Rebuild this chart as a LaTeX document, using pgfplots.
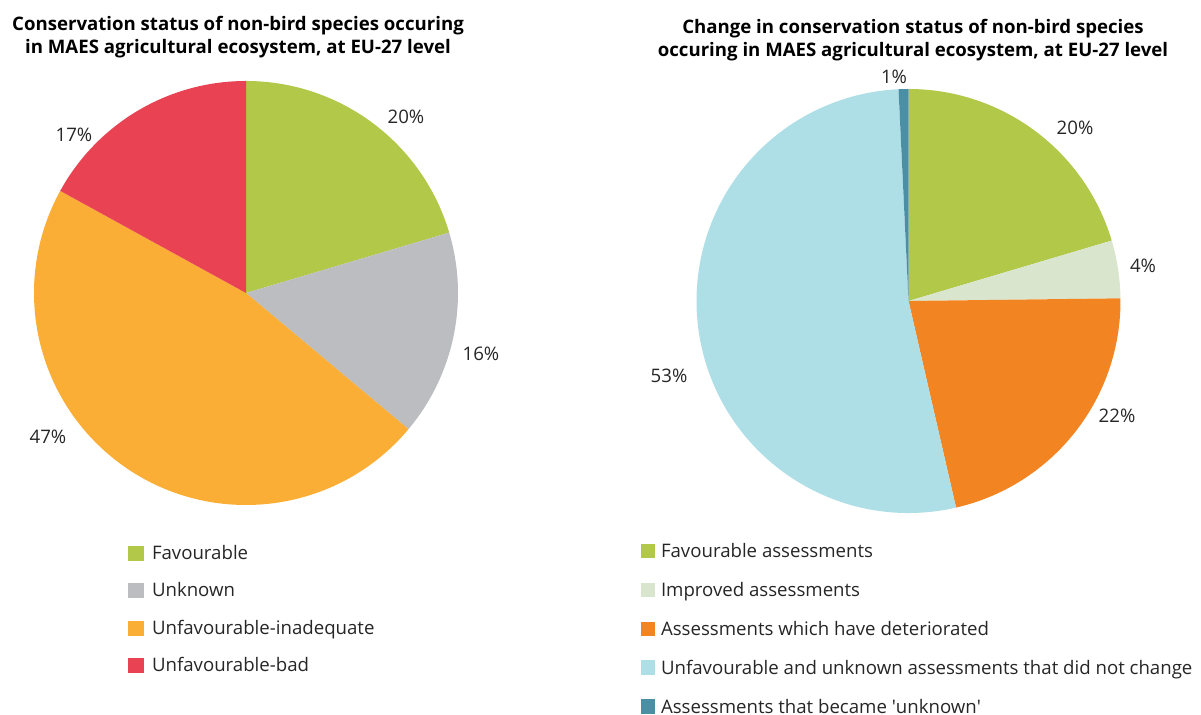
\documentclass[border=0pt]{standalone}
\usepackage{pgfplots}
\usepackage{pgfplotstable}
\pgfplotsset{compat=1.18}
\usepackage{fontspec}
\setmainfont{Open Sans}

\definecolor{cFav}{HTML}{B2C848}
\definecolor{cUnk}{HTML}{BCBDC0}
\definecolor{cInad}{HTML}{FBAE35}
\definecolor{cBad}{HTML}{E84253}
\definecolor{cImp}{HTML}{D9E5CC}
\definecolor{cDet}{HTML}{F28522}
\definecolor{cStay}{HTML}{AEDFE6}
\definecolor{cUnkn}{HTML}{4A8FA3}

% value (percent), label, label position (x, y in canvas px, y up), colour
\pgfplotstableread{
value lab lx ly color
20.4 20 406 598 cFav
15.7 16 481 361 cUnk
46.9 47 48 278 cInad
17.0 17 74 580 cBad
}\leftpie

\pgfplotstableread{
value lab lx ly color
20.4 20 1075 587 cFav
4.4 4 1143 449 cImp
21.6 22 1117 299 cDet
52.85 53 669 339 cStay
0.75 1 894 638 cUnkn
}\rightpie

\newcommand\fs{\fontsize{18.7}{22}\selectfont}
\tikzset{pctlabel/.style={font=\fs, text=black!85}}

\newcommand\drawpie[4]{%
  \pgfplotstablegetrowsof{#1}%
  \pgfmathtruncatemacro\nrows{\pgfplotsretval-1}%
  \def\cum{90}%
  \pgfplotsforeachungrouped \i in {0,...,\nrows}{%
    \pgfplotstablegetelem{\i}{value}\of{#1}\let\val\pgfplotsretval
    \pgfplotstablegetelem{\i}{color}\of{#1}\let\col\pgfplotsretval
    \pgfplotstablegetelem{\i}{lab}\of{#1}\let\lab\pgfplotsretval
    \pgfplotstablegetelem{\i}{lx}\of{#1}\let\lx\pgfplotsretval
    \pgfplotstablegetelem{\i}{ly}\of{#1}\let\ly\pgfplotsretval
    \pgfmathsetmacro\endang{\cum-3.6*\val}%
    \edef\tmp{\noexpand\fill[\col] (axis cs:#2,#3) -- ++(\cum:#4bp)
      arc[start angle=\cum, end angle=\endang, radius=#4bp] -- cycle;
      \noexpand\node[pctlabel] at (axis cs:\lx,\ly) {\lab\noexpand\%};}%
    \tmp
    \let\cum\endang
  }%
}

\pgfplotsset{
  canvas/.style={
    at={(0,0)}, anchor=south west,
    scale only axis, width=1201bp, height=715bp,
    xmin=0, xmax=1201, ymin=0, ymax=715,
    hide axis, clip=false,
  },
}

\begin{document}
\begin{tikzpicture}
\useasboundingbox (0,0) rectangle (1201bp,715bp);
% ---------- left pie ----------
\begin{axis}[canvas,
  legend cell align=left,
  legend image code/.code={\fill (0bp,-1.5bp) rectangle (16bp,13.5bp);},
  legend style={at={(axis cs:128,169.5)}, anchor=north west,
    draw=none, fill=none, inner sep=0pt, outer sep=0pt,
    row sep=19.5bp, column sep=8bp,
    font=\fs,
    cells={anchor=base west},
    nodes={inner sep=0pt, outer sep=0pt, text height=14bp, text depth=4bp, text=black!85}},
]
\drawpie{\leftpie}{246}{422}{212}
\node[anchor=base, font=\fs\bfseries] at (axis cs:238,684) {Conservation status of non-bird species occuring};
\node[anchor=base, font=\fs\bfseries] at (axis cs:238,661) {in MAES agricultural ecosystem, at EU-27 level};
\addlegendimage{fill=cFav, draw=none}
\addlegendimage{fill=cUnk, draw=none}
\addlegendimage{fill=cInad, draw=none}
\addlegendimage{fill=cBad, draw=none}
\legend{Favourable, Unknown, Unfavourable-inadequate, Unfavourable-bad}
\end{axis}
% ---------- right pie ----------
\begin{axis}[canvas,
  legend cell align=left,
  legend image code/.code={\fill (0bp,-0.5bp) rectangle (14bp,14bp);},
  legend style={at={(axis cs:641,171)}, anchor=north west,
    draw=none, fill=none, inner sep=0pt, outer sep=0pt,
    row sep=20.8bp, column sep=6bp,
    font=\fs,
    cells={anchor=base west},
    nodes={inner sep=0pt, outer sep=0pt, text height=14bp, text depth=4bp, text=black!85}},
]
\drawpie{\rightpie}{908.5}{414}{212}
\node[anchor=base, font=\fs\bfseries] at (axis cs:913,681) {Change in conservation status of non-bird species};
\node[anchor=base, font=\fs\bfseries] at (axis cs:913,658) {occuring in MAES agricultural ecosystem, at EU-27 level};
\addlegendimage{fill=cFav, draw=none}
\addlegendimage{fill=cImp, draw=none}
\addlegendimage{fill=cDet, draw=none}
\addlegendimage{fill=cStay, draw=none}
\addlegendimage{fill=cUnkn, draw=none}
\legend{Favourable assessments, Improved assessments, Assessments which have deteriorated, Unfavourable and unknown assessments that did not change, Assessments that became \textquotesingle unknown\textquotesingle}
\end{axis}
\end{tikzpicture}
\end{document}
